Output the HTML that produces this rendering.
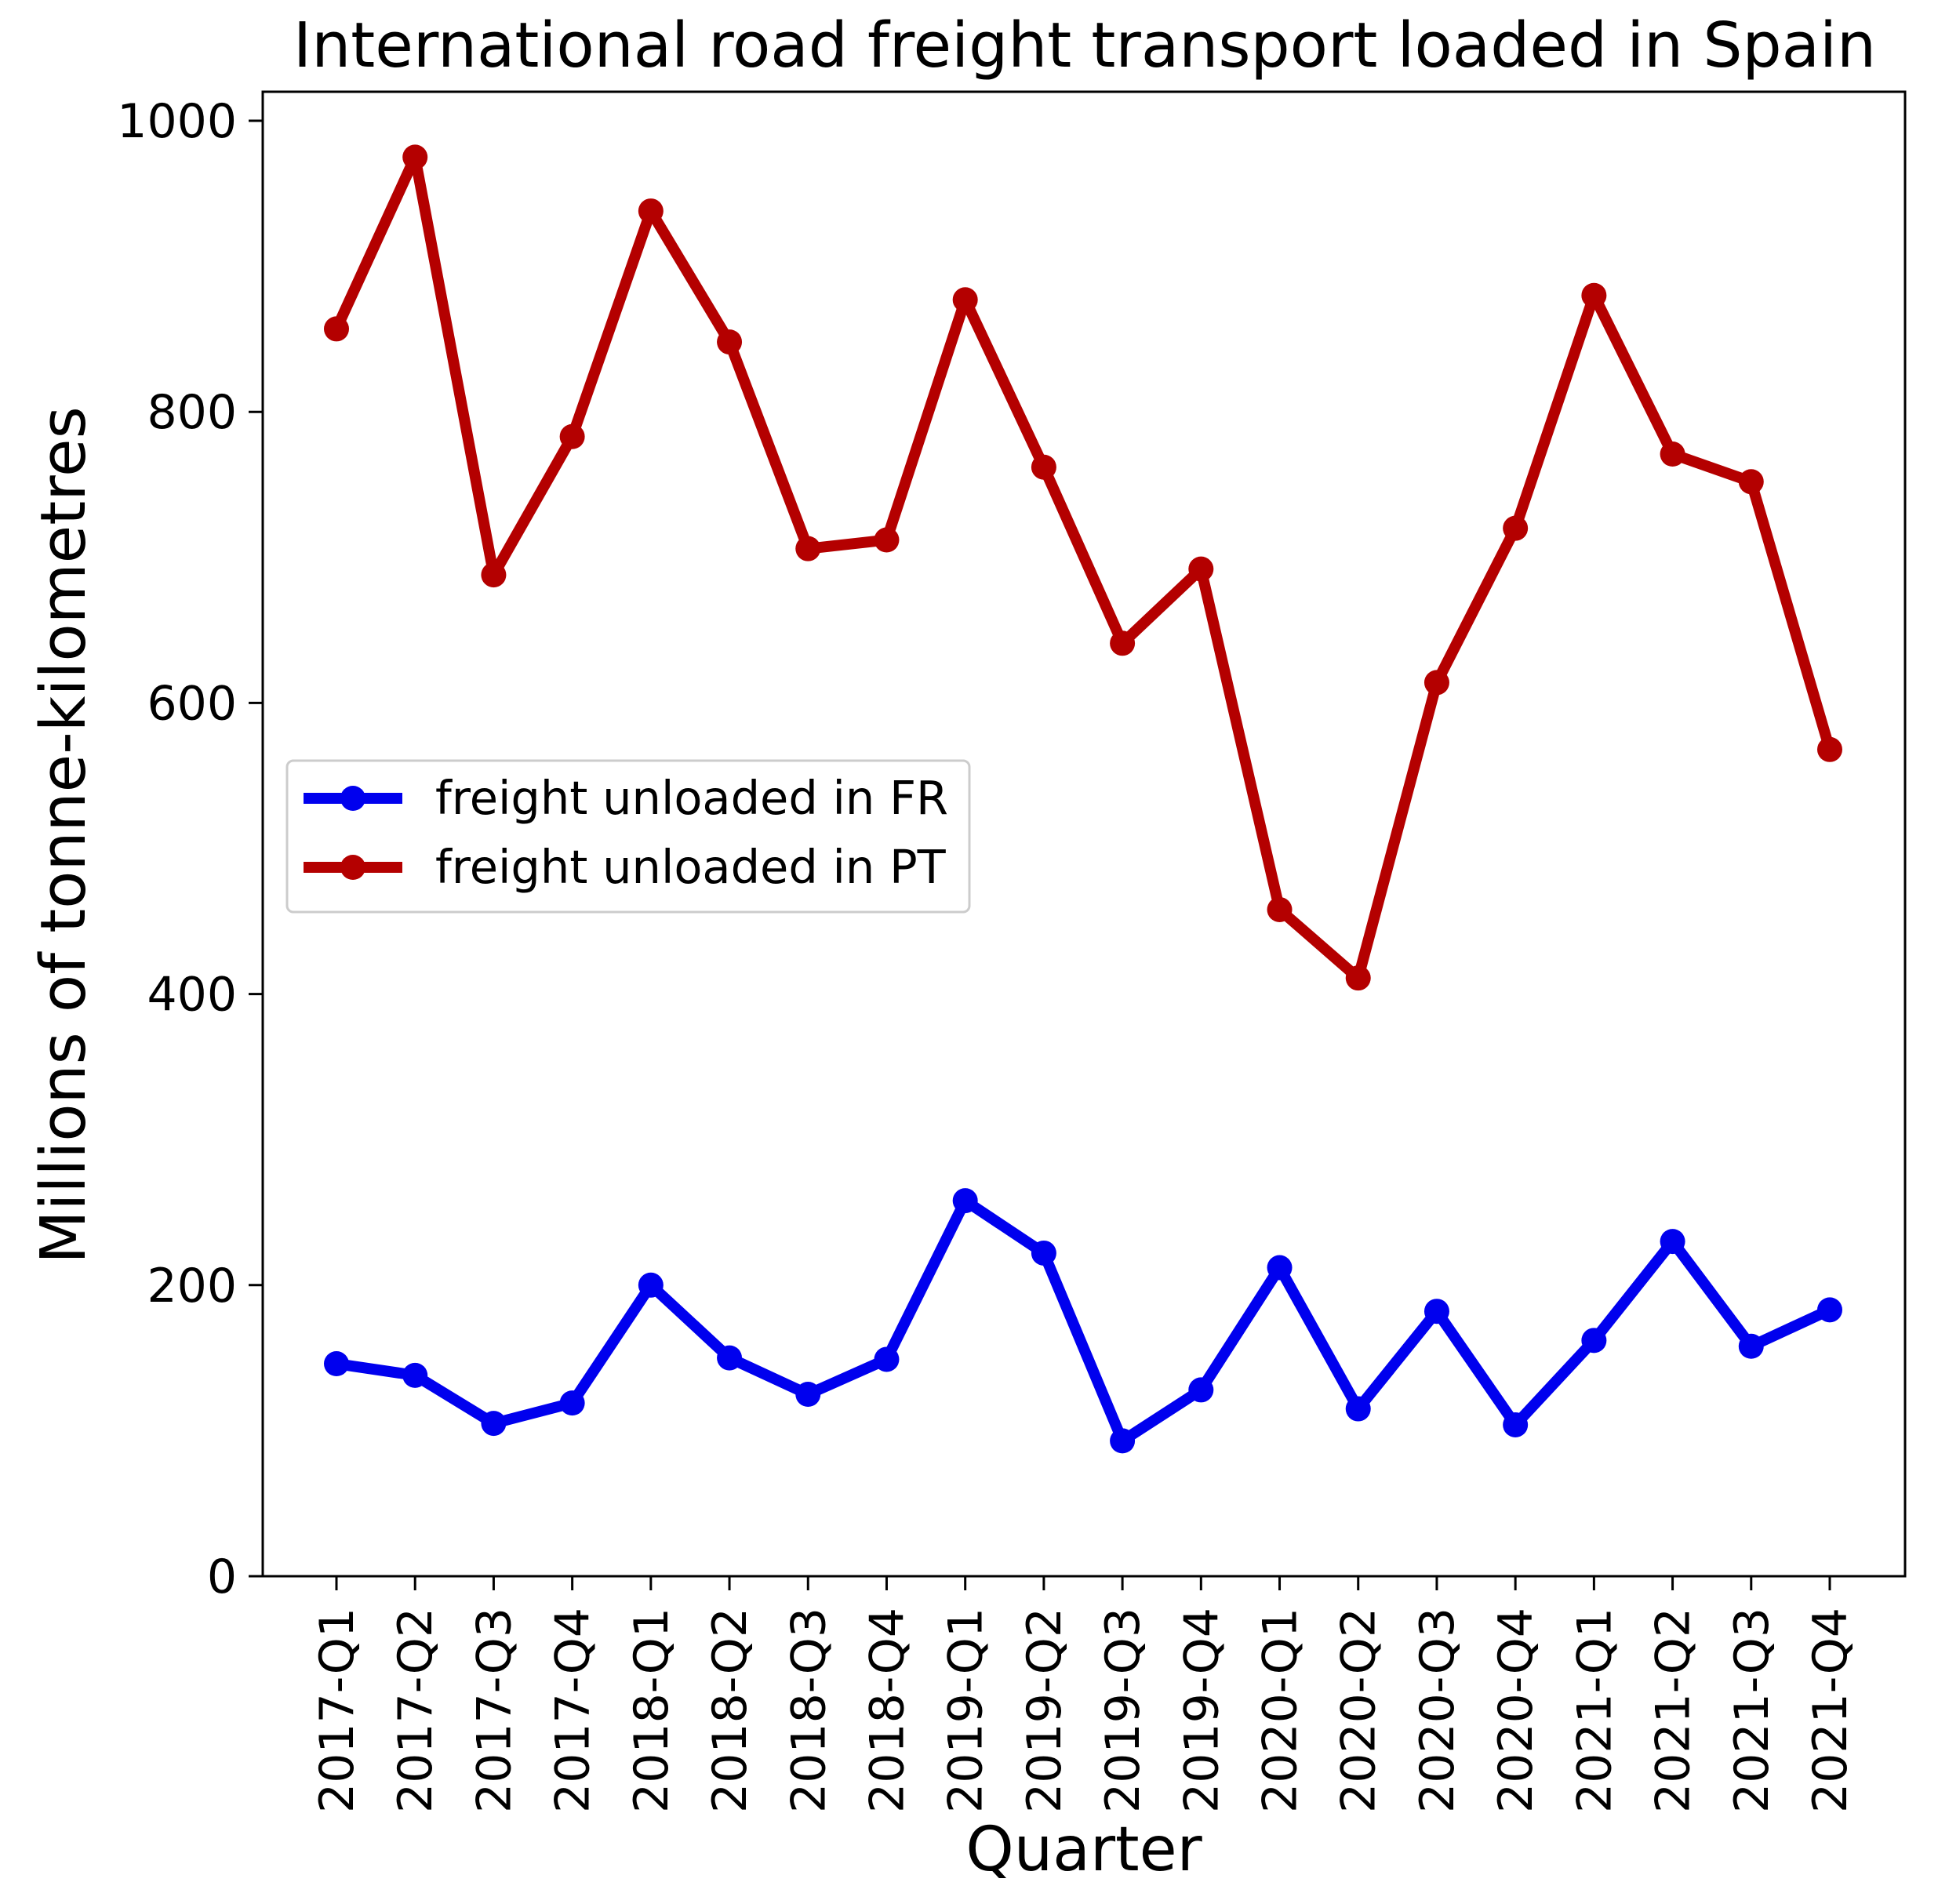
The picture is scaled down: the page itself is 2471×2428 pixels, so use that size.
<!DOCTYPE html>
<html><head><meta charset="utf-8"><style>
html,body{margin:0;padding:0;background:#fff;}
svg{display:block;font-family:"DejaVu Sans","Liberation Sans",sans-serif;}
</style></head><body>
<svg id="chart" width="2471" height="2428" xmlns="http://www.w3.org/2000/svg">
<text x="1383" y="85" font-size="79" text-anchor="middle">International road freight transport loaded in Spain</text>
<text transform="translate(108,1065) rotate(-90)" font-size="79" text-anchor="middle">Millions of tonne-kilometres</text>
<text x="1382" y="2385" font-size="78" text-anchor="middle">Quarter</text>
<g id="grid"></g>
<g id="series"></g>
<rect x="335" y="117" width="2094" height="1893" fill="none" stroke="#000" stroke-width="3"/>
<g id="legend">
<rect x="366" y="970" width="870" height="193" rx="8" fill="#fff" fill-opacity="0.8" stroke="#ccc" stroke-width="3"/>
<line x1="387" y1="1018" x2="513" y2="1018" stroke="#0000ee" stroke-width="14"/>
<circle cx="450" cy="1018" r="16" fill="#0000ee"/>
<text x="555" y="1038" font-size="59">freight unloaded in FR</text>
<line x1="387" y1="1106" x2="513" y2="1106" stroke="#b40000" stroke-width="14"/>
<circle cx="450" cy="1106" r="16" fill="#b40000"/>
<text x="555" y="1126" font-size="59">freight unloaded in PT</text>
</g>
</svg>
<script>
const categories = ["2017-Q1","2017-Q2","2017-Q3","2017-Q4","2018-Q1","2018-Q2","2018-Q3","2018-Q4","2019-Q1","2019-Q2","2019-Q3","2019-Q4","2020-Q1","2020-Q2","2020-Q3","2020-Q4","2021-Q1","2021-Q2","2021-Q3","2021-Q4"];
const frValues = [146,138,105,119,200,150,125,149,258,222,93,128,212,115,182,104,162,230,158,183];
const ptValues = [857,975,688,783,938,848,706,712,877,762,641,692,458,411,614,720,880,771,752,568];
const yTicks = [0,200,400,600,800,1000];

const NS = "http://www.w3.org/2000/svg";
const grid = document.getElementById('grid');
const series = document.getElementById('series');
function xPos(i){ return 429 + i * (2333 - 429) / (categories.length - 1); }
function yPos(v){ return 2010 - v * (2010 - 154) / 1000; }
function mk(tag, attrs, parent){ const e = document.createElementNS(NS, tag); for (const k in attrs) e.setAttribute(k, attrs[k]); parent.appendChild(e); return e; }

yTicks.forEach(function(t){
  const y = yPos(t);
  const tk = mk('line', {x1:317, x2:335, y1:y, y2:y, stroke:'#000', 'stroke-width':3}, grid);
  
  
  const tx = mk('text', {x:302, y:y + 21, 'font-size':60, 'text-anchor':'end'}, grid);
  tx.textContent = t;
  
  
});
categories.forEach(function(c, i){
  const x = xPos(i);
  const tk = mk('line', {x1:x, x2:x, y1:2010, y2:2028, stroke:'#000', 'stroke-width':3}, grid);
  
  
  const tx = mk('text', {transform:'translate(' + (x + 21) + ',2050) rotate(-90)', 'font-size':60, 'text-anchor':'end'}, grid);
  tx.textContent = c;
  
  
});
function drawSeries(vals, color, name){
  const pts = vals.map(function(v, i){ return xPos(i) + ',' + yPos(v); }).join(' ');
  const pl = mk('polyline', {points:pts, fill:'none', stroke:color, 'stroke-width':14, 'stroke-linejoin':'round'}, series);
  
  
  vals.forEach(function(v, i){
    const c = mk('circle', {cx:xPos(i), cy:yPos(v), r:16, fill:color}, series);
    
    
  });
}
drawSeries(frValues, '#0000ee', 'fr');
drawSeries(ptValues, '#b40000', 'pt');
</script>
</body></html>
